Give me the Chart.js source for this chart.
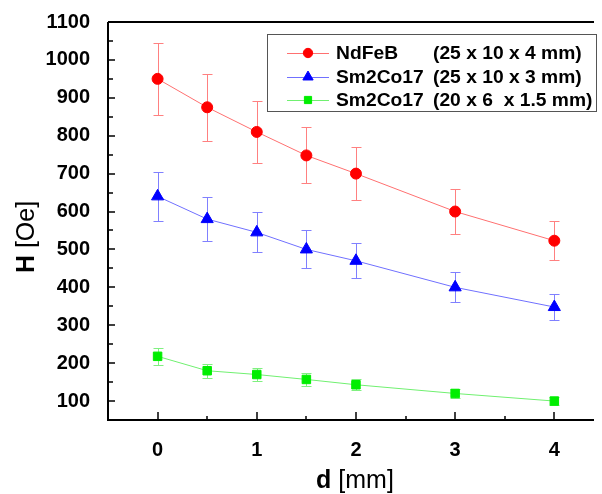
<!DOCTYPE html>
<html lang="en">
<head>
    <meta charset="UTF-8">
    <script src="https://cdn.jsdelivr.net/npm/chart.js"></script>
    <title>H vs d</title>
    <style>
        body {
            margin: 0;
            padding: 0;
            background-color: #fff;
        }
        canvas {
            display: block;
        }
    </style>
</head>
<body>
    <canvas id="campo" width="602" height="494"></canvas>

    <script>
        // Distância [mm]
        const distancias = [0, 0.5, 1, 1.5, 2, 3, 4];
        const xTicks = [0, 1, 2, 3, 4];
        const yTicks = [100, 200, 300, 400, 500, 600, 700, 800, 900, 1000, 1100];

        // Campo H [Oe] e barras de erro
        const ndfeb = [950, 875, 810, 748, 700, 600, 523];
        const ndfebErro = [95, 88, 82, 74, 70, 60, 52];
        const sm2co17Grande = [640, 580, 545, 500, 470, 400, 348];
        const sm2co17GrandeErro = [65, 58, 53, 50, 46, 40, 35];
        const sm2co17Pequeno = [218, 180, 170, 157, 143, 120, 100];
        const sm2co17PequenoErro = [22, 18, 17, 16, 14, 12, 10];

        const nomes = ['NdFeB', 'Sm2Co17', 'Sm2Co17'];
        const dimensoes = ['(25 x 10 x 4 mm)', '(25 x 10 x 3 mm)', '(20 x 6  x 1.5 mm)'];

        const fonte = '"Liberation Sans", Arial, sans-serif';

        function pontos(valores) {
            return distancias.map((x, i) => ({ x: x, y: valores[i] }));
        }

        const datasets = [
            {
                label: nomes[0],
                data: pontos(ndfeb),
                erros: ndfebErro,
                borderColor: '#ff7070',
                borderWidth: 1,
                pointStyle: 'circle',
                pointRadius: 5.5,
                pointBackgroundColor: '#ff0000',
                pointBorderColor: '#ff0000',
                corErro: '#ff8080'
            },
            {
                label: nomes[1],
                data: pontos(sm2co17Grande),
                erros: sm2co17GrandeErro,
                borderColor: '#7070ff',
                borderWidth: 1,
                pointStyle: 'triangle',
                pointRadius: 7,
                pointBackgroundColor: '#0000ff',
                pointBorderColor: '#0000ff',
                corErro: '#8080ff'
            },
            {
                label: nomes[2],
                data: pontos(sm2co17Pequeno),
                erros: sm2co17PequenoErro,
                borderColor: '#70f070',
                borderWidth: 1,
                pointStyle: 'rect',
                pointRadius: 6,
                pointBackgroundColor: '#00ee00',
                pointBorderColor: '#00ee00',
                corErro: '#80f080'
            }
        ];

        // Barras de erro (desenhadas antes dos marcadores)
        const barrasErro = {
            id: 'barrasErro',
            beforeDatasetsDraw(chart) {
                const ctx = chart.ctx;
                const x = chart.scales.x;
                const y = chart.scales.y;
                ctx.save();
                chart.data.datasets.forEach(ds => {
                    ctx.strokeStyle = ds.corErro;
                    ctx.lineWidth = 1;
                    ds.data.forEach((p, i) => {
                        const px = Math.round(x.getPixelForValue(p.x)) + 0.5;
                        const y1 = Math.round(y.getPixelForValue(p.y + ds.erros[i])) + 0.5;
                        const y2 = Math.round(y.getPixelForValue(p.y - ds.erros[i])) + 0.5;
                        ctx.beginPath();
                        ctx.moveTo(px, y1);
                        ctx.lineTo(px, y2);
                        ctx.moveTo(px - 5, y1);
                        ctx.lineTo(px + 5, y1);
                        ctx.moveTo(px - 5, y2);
                        ctx.lineTo(px + 5, y2);
                        ctx.stroke();
                    });
                });
                ctx.restore();
            }
        };

        // Texto em duas partes: negrito + normal
        function textoMisto(ctx, negrito, normal, cx, cy, tam) {
            ctx.font = 'bold ' + tam + 'px ' + fonte;
            const w1 = ctx.measureText(negrito).width;
            ctx.font = tam + 'px ' + fonte;
            const w2 = ctx.measureText(normal).width;
            const sx = cx - (w1 + w2) / 2;
            ctx.textAlign = 'left';
            ctx.textBaseline = 'middle';
            ctx.font = 'bold ' + tam + 'px ' + fonte;
            ctx.fillText(negrito, sx, cy);
            ctx.font = tam + 'px ' + fonte;
            ctx.fillText(normal, sx + w1, cy);
        }

        // Eixos, marcas internas, títulos e legenda
        const moldura = {
            id: 'moldura',
            afterDraw(chart) {
                const ctx = chart.ctx;
                const area = chart.chartArea;
                const x = chart.scales.x;
                const y = chart.scales.y;
                ctx.save();
                ctx.strokeStyle = '#000';

                // linhas dos eixos
                ctx.lineWidth = 2;
                ctx.beginPath();
                ctx.moveTo(area.left, area.top);
                ctx.lineTo(area.left, area.bottom);
                ctx.lineTo(area.right, area.bottom);
                ctx.moveTo(area.left, area.top);
                ctx.lineTo(area.right, area.top);
                ctx.stroke();

                // marcas do eixo y (a cada 50)
                ctx.lineWidth = 1.5;
                ctx.beginPath();
                for (let v = 100; v <= 1100; v += 50) {
                    const py = Math.round(y.getPixelForValue(v));
                    const len = v % 100 === 0 ? 7 : 5;
                    ctx.moveTo(area.left, py);
                    ctx.lineTo(area.left + len, py);
                }
                // marcas do eixo x (a cada 0.5)
                for (let v = 0; v <= 4; v += 0.5) {
                    const px = Math.round(x.getPixelForValue(v));
                    const len = Number.isInteger(v) ? 8 : 4;
                    ctx.moveTo(px, area.bottom);
                    ctx.lineTo(px, area.bottom - len);
                }
                ctx.stroke();

                // títulos dos eixos
                ctx.fillStyle = '#000';
                ctx.save();
                ctx.translate(27, 237);
                ctx.rotate(-Math.PI / 2);
                textoMisto(ctx, 'H ', '[Oe]', 0, 0, 25);
                ctx.restore();
                textoMisto(ctx, 'd ', '[mm]', (area.left + area.right) / 2 + 4, 481, 25);

                // legenda
                ctx.lineWidth = 1;
                ctx.strokeStyle = '#555';
                ctx.strokeRect(267.5, 34.5, 329, 77);
                const linhas = [53, 77, 100];
                chart.data.datasets.forEach((ds, i) => {
                    const ly = linhas[i];
                    ctx.strokeStyle = ds.borderColor;
                    ctx.lineWidth = 1;
                    ctx.beginPath();
                    ctx.moveTo(287, ly + 0.5);
                    ctx.lineTo(329, ly + 0.5);
                    ctx.stroke();
                    ctx.fillStyle = ds.pointBackgroundColor;
                    ctx.strokeStyle = ds.pointBorderColor;
                    Chart.helpers.drawPoint(ctx, {
                        pointStyle: ds.pointStyle,
                        radius: ds.pointRadius * 0.85,
                        rotation: 0,
                        borderWidth: 1
                    }, 308, ly);
                    ctx.fillStyle = '#000';
                    ctx.font = 'bold 17.5px ' + fonte;
                    ctx.textAlign = 'left';
                    ctx.textBaseline = 'middle';
                    ctx.save();
                    ctx.translate(336, ly + 1);
                    ctx.scale(1.1, 1);
                    ctx.fillText(ds.label, 0, 0);
                    ctx.restore();
                    ctx.save();
                    ctx.translate(433, ly + 1);
                    ctx.scale(1.1, 1);
                    ctx.fillText(dimensoes[i], 0, 0);
                    ctx.restore();
                });
                ctx.restore();
            }
        };

        new Chart(document.getElementById('campo'), {
            type: 'line',
            data: { datasets: datasets },
            options: {
                responsive: false,
                animation: false,
                layout: { padding: { left: 0, top: 21, right: 0, bottom: 0 } },
                plugins: {
                    legend: { display: false },
                    tooltip: { enabled: false }
                },
                scales: {
                    x: {
                        type: 'linear',
                        min: -0.5,
                        max: 4.4,
                        afterFit: s => { s.height = 74; },
                        afterBuildTicks: s => { s.ticks = xTicks.map(v => ({ value: v })); },
                        grid: { display: false },
                        border: { display: false },
                        ticks: {
                            color: '#000',
                            padding: 10,
                            font: { family: fonte, size: 20, weight: 'bold' },
                            callback: v => String(v)
                        }
                    },
                    y: {
                        min: 50,
                        max: 1100,
                        afterFit: s => { s.width = 108; },
                        afterBuildTicks: s => { s.ticks = yTicks.map(v => ({ value: v })); },
                        grid: { display: false },
                        border: { display: false },
                        ticks: {
                            color: '#000',
                            padding: 10,
                            font: { family: fonte, size: 20, weight: 'bold' },
                            callback: v => String(v)
                        }
                    }
                }
            },
            plugins: [barrasErro, moldura]
        });
    </script>
</body>
</html>
